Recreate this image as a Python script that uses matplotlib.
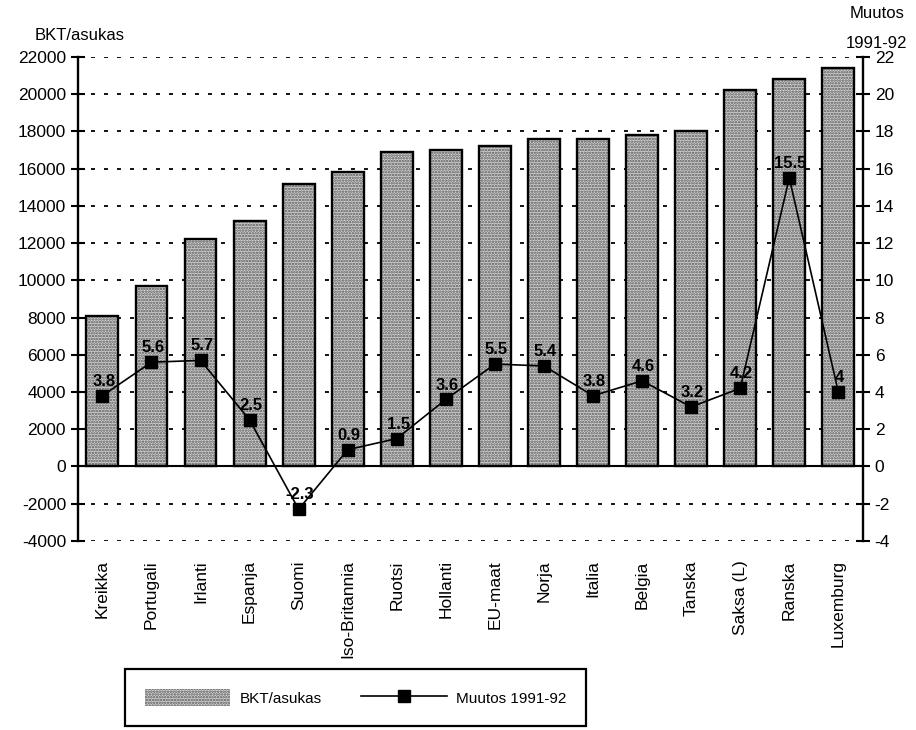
import matplotlib
matplotlib.use('Agg')
import matplotlib.pyplot as plt
from matplotlib.patches import Patch
from matplotlib.lines import Line2D

# Maat, BKT/asukas ja muutos 1991-92
maat = ['Kreikka', 'Portugali', 'Irlanti', 'Espanja', 'Suomi', 'Iso-Britannia',
        'Ruotsi', 'Hollanti', 'EU-maat', 'Norja', 'Italia', 'Belgia', 'Tanska',
        'Saksa (L)', 'Ranska', 'Luxemburg']
bkt = [8100, 9700, 12200, 13200, 15200, 15800, 16900, 17000, 17200, 17600,
       17600, 17800, 18000, 20200, 20800, 21400]
muutos = [3.8, 5.6, 5.7, 2.5, -2.3, 0.9, 1.5, 3.6, 5.5, 5.4, 3.8, 4.6, 3.2,
          4.2, 15.5, 4]

plt.rcParams['font.family'] = ['Liberation Sans', 'DejaVu Sans']
plt.rcParams['axes.unicode_minus'] = False
plt.rcParams['hatch.linewidth'] = 1.2

fig = plt.figure(figsize=(9.16, 7.3), dpi=100)
ax = fig.add_axes([0.085, 0.259, 0.857, 0.663])
x = list(range(len(maat)))

# pylväät: pisterasteri + musta reunus
ax.bar(x, bkt, width=0.65, color='#d2d2d2', hatch='......', edgecolor='#555555',
       linewidth=0, zorder=2)
ax.bar(x, bkt, width=0.65, fill=False, edgecolor='black', linewidth=1.7, zorder=3)

ax.set_ylim(-4000, 22000)
ax.set_xlim(-0.5, len(maat) - 0.5)
ax.set_yticks(range(-4000, 22001, 2000))
ax.yaxis.grid(True, color='black', linestyle=(0, (2.2, 5.0)), linewidth=1.3)
ax.set_axisbelow(True)
ax.axhline(0, color='black', linewidth=1.5, zorder=4)

ax.set_xticks(x)
ax.set_xticklabels(maat, rotation=90, fontsize=12.5)
ax.tick_params(axis='x', length=0, pad=14)
ax.tick_params(axis='y', direction='inout', length=10, width=1.5, labelsize=12.5)
for s in ['top', 'bottom', 'right']:
    ax.spines[s].set_visible(False)
ax.spines['left'].set_linewidth(1.7)

# muutosviiva oikealla akselilla
ax2 = ax.twinx()
ax2.plot(x, muutos, color='black', linewidth=1.2, marker='s', markersize=8,
         zorder=5)
ax2.set_ylim(-4, 22)
ax2.set_yticks(range(-4, 23, 2))
ax2.tick_params(axis='y', direction='inout', length=10, width=1.5, labelsize=12.5)
for s in ['top', 'bottom', 'left']:
    ax2.spines[s].set_visible(False)
ax2.spines['right'].set_linewidth(1.7)

for xi, v in zip(x, muutos):
    ax2.annotate(f'{v:g}', (xi, v), xytext=(1, 5), textcoords='offset points',
                 ha='center', va='bottom', fontsize=12, fontweight='bold')

fig.text(0.038, 0.952, 'BKT/asukas', fontsize=12, ha='left', va='center')
fig.text(0.957, 0.981, 'Muutos', fontsize=12, ha='center', va='center')
fig.text(0.957, 0.941, '1991-92', fontsize=12, ha='center', va='center')

handles = [Patch(facecolor='#d2d2d2', hatch='......', edgecolor='#555555', linewidth=0),
           Line2D([], [], color='black', linewidth=1.2, marker='s', markersize=8)]
leg = fig.legend(handles, ['BKT/asukas', 'Muutos 1991-92'], ncol=2,
                 loc='center', bbox_to_anchor=(0.388, 0.0445), fontsize=11,
                 handlelength=5.6, handleheight=1.4, columnspacing=2.6,
                 handletextpad=0.6, borderpad=1.3, fancybox=False,
                 edgecolor='black', framealpha=1)
leg.get_frame().set_linewidth(1.6)

fig.savefig('out.png', dpi=100)
